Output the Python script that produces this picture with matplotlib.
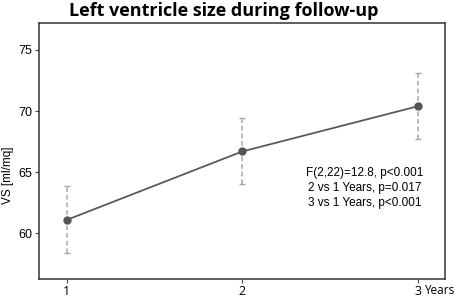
import matplotlib
matplotlib.use("Agg")
import matplotlib.pyplot as plt

# datos
anios = [1, 2, 3]
vs_media = [61.1, 66.7, 70.4]
err_sup = [63.85, 69.4, 73.15]
err_inf = [58.4, 64.0, 67.7]
etiquetas_x = ["1", "2", "3"]
texto_stats = ["F(2,22)=12.8, p<0.001", "2 vs 1 Years, p=0.017", "3 vs 1 Years, p<0.001"]

plt.rcParams['font.family'] = ['Liberation Sans', 'DejaVu Sans']

fig = plt.figure(figsize=(4.54, 2.99), dpi=100)
ax = fig.add_axes([0.087, 0.067, 0.893, 0.857])

yerr = [[m - b for m, b in zip(vs_media, err_inf)], [t - m for m, t in zip(vs_media, err_sup)]]
eb = ax.errorbar(anios, vs_media, yerr=yerr, fmt='none', ecolor='#a8a8a8',
                 elinewidth=1.1, capsize=2.5, capthick=1.0, zorder=2)
eb[2][0].set_linestyle((0, (3, 2)))
ax.plot(anios, vs_media, color='#5a5a5a', linewidth=1.3, marker='o',
        markersize=5, markerfacecolor='#555555', markeredgecolor='#555555', zorder=3)

ax.set_xlim(0.845, 3.154)
ax.set_ylim(56.27, 77.23)
ax.set_xticks(anios)
ax.set_xticklabels(etiquetas_x)
ax.set_yticks([60, 65, 70, 75])
ax.tick_params(axis='both', labelsize=9, length=3, width=0.8, color='#444444')
ax.tick_params(axis='x', pad=1.2)
ax.tick_params(axis='y', pad=2)
for lab in ax.get_xticklabels():
    lab.set_family(['Open Sans', 'DejaVu Sans'])
ax.annotate("Years", xy=(3, 0), xycoords=('data', 'axes fraction'), xytext=(4.2, -3.4),
            textcoords='offset points', fontsize=8.5, ha='left', va='top',
            family=['Open Sans', 'DejaVu Sans'])

fig.text(8 / 454, 1 - 175 / 299, "VS [ml/mq]", fontsize=8.5, rotation=90,
         ha='center', va='center')

for s in ax.spines.values():
    s.set_color('#333333')
    s.set_linewidth(1.1)

y0 = 0.414
for i, t in enumerate(texto_stats):
    ax.text(0.803, y0 - i * 0.059, t, transform=ax.transAxes, fontsize=8.5,
            ha='center', va='center')

fig.text(0.493, 0.963, "Left ventricle size during follow-up", fontsize=13,
         fontweight='bold', family=['Open Sans', 'DejaVu Sans'], ha='center', va='center')

fig.savefig("out.png", dpi=100)
